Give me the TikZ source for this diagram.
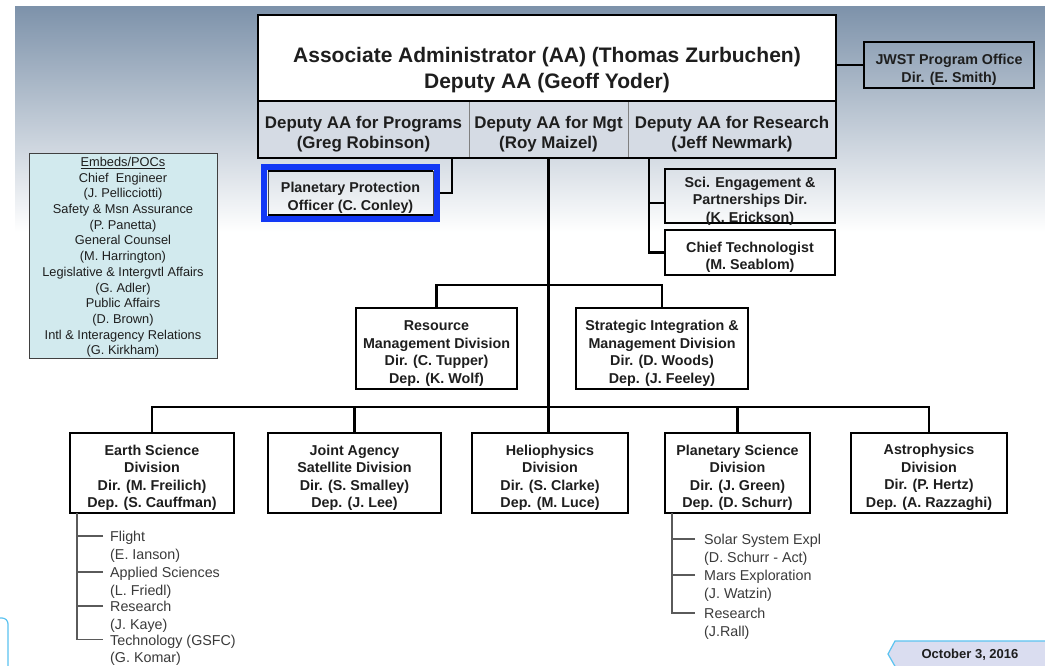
\documentclass[tikz,border=0pt]{standalone}
\usepackage{fontspec}
\setmainfont{Liberation Sans}
\usetikzlibrary{fit}
\definecolor{bgtop}{HTML}{7D92AA}
\definecolor{bgmid}{HTML}{B4C0CE}
\definecolor{depfill}{HTML}{D5DBE4}
\definecolor{ppblue}{HTML}{1238F5}
\definecolor{embfill}{HTML}{D2EAEE}
\definecolor{txt}{HTML}{1E1E1E}
\definecolor{listtxt}{HTML}{3A3A3A}
\definecolor{listgray}{HTML}{5A5A5A}
\definecolor{tagblue}{HTML}{5CC3F0}
\definecolor{tagmid}{HTML}{7D89CC}
\definecolor{tagside}{HTML}{DADDF0}
\newcommand\orgstrut{\rule{0pt}{19.5pt}}
\begin{document}
\begin{tikzpicture}[x=1pt,y=-1pt,
  boxbase/.style={anchor=north west, inner sep=0pt, outer sep=0pt, align=center, text=txt,
    font=\bfseries\fontsize{14.3}{17.5}\selectfont},
  orgbox/.style={boxbase, draw=black, line width=2.4pt},
  depcell/.style={boxbase, fill=depfill, draw=gray, line width=0.8pt,
    font=\bfseries\fontsize{16.9}{20}\selectfont, minimum height=57pt},
  divbox/.style={orgbox, fill=white, minimum height=80pt},
  conn/.style={draw=black, line width=2.4pt},
  listline/.style={draw=listgray, line width=1.1pt},
  listitem/.style={anchor=north west, inner sep=0pt, inner xsep=7pt, align=left,
    text=listtxt, font=\fontsize{14.3}{17.5}\selectfont},
]
\useasboundingbox (0,0) rectangle (1045,665);
\clip (0,0) rectangle (1045,665);
% background
\fill[white] (0,0) rectangle (1045,665);
\shade[top color=bgtop, middle color=bgmid, bottom color=white] (15,6) rectangle (1045,232);
\draw[draw=tagblue, line width=1.2pt, fill=white, rounded corners=6pt] (-20,618) -- (8,618) -- (8,690);

% top block
\node[boxbase, fill=white, font=\bfseries\fontsize{21}{26}\selectfont,
  minimum width=578pt, minimum height=86pt] (aa) at (258,15)
  {\rule{0pt}{40pt}Associate Administrator (AA) (Thomas Zurbuchen)\\Deputy AA (Geoff Yoder)};
\node[depcell, minimum width=211pt] (dp1) at (258,101) {\rule{0pt}{21pt}Deputy AA for Programs\\(Greg Robinson)};
\node[depcell, minimum width=159pt] (dp2) at (469,101) {\rule{0pt}{21pt}Deputy AA for Mgt\\(Roy Maizel)};
\node[depcell, minimum width=208pt] (dp3) at (628,101) {\rule{0pt}{21pt}Deputy AA for Research\\(Jeff Newmark)};
\draw[line width=2.6pt] (aa.north west) rectangle (dp3.south east);
\draw[line width=2.6pt] (aa.south west) -- (aa.south east);

% JWST
\node[orgbox, minimum width=170pt, minimum height=46pt] (jwst) at (864,42)
  {\orgstrut JWST Program Office\\Dir. (E. Smith)};
\draw[conn] (jwst.west) -- (jwst.west -| aa.east);

% Planetary protection
\node[boxbase, draw=gray!60!black, line width=0.8pt, minimum width=165pt, minimum height=44pt]
  (pp) at (268,171) {\orgstrut Planetary Protection\\Officer (C. Conley)};
\draw[line width=2.6pt] (pp.north west) -- (pp.north east);
\draw[line width=2.6pt] (pp.south west) -- (pp.south east);
\node[draw=ppblue, line width=6pt, fit=(pp), inner sep=4pt] (ppframe) {};
\coordinate (pptap) at (452,158);
\draw[conn] (pptap) |- (ppframe.east);

% right staff
\node[orgbox, minimum width=170pt, minimum height=54pt] (sci) at (665,169) {};
\node[boxbase, anchor=center] (scitxt) at (750,201)
  {Sci. Engagement \&\\Partnerships Dir.\\(K. Erickson)};
\node[orgbox, minimum width=170pt, minimum height=45pt] (chief) at (665,230)
  {\orgstrut Chief Technologist\\(M. Seablom)};
\coordinate (rtap) at (649,158);
\draw[conn] (rtap) |- (chief.west);
\coordinate (scitap) at ([yshift=-7pt]sci.west);
\draw[conn] (scitap) -- (scitap -| rtap);

% embeds
\node[anchor=north west, draw=black!75, line width=1pt, fill=embfill, inner sep=0pt, outer sep=0pt,
  align=center, text=txt, font=\fontsize{12.8}{15.7}\selectfont,
  minimum width=188pt, minimum height=205pt] (emb) at (29,153)
  {\rule{0pt}{13pt}\underline{Embeds/POCs}\\Chief\ \ Engineer\\(J. Pellicciotti)\\Safety \& Msn Assurance\\(P. Panetta)\\
   General Counsel\\(M. Harrington)\\Legislative \& Intergvtl Affairs\\(G. Adler)\\Public Affairs\\
   (D. Brown)\\Intl \& Interagency Relations\\(G. Kirkham)};

% middle divisions
\node[orgbox, fill=white, minimum width=161pt, minimum height=81pt] (rmd) at (356,308)
  {\orgstrut Resource\\Management Division\\Dir. (C. Tupper)\\Dep. (K. Wolf)};
\node[orgbox, fill=white, minimum width=172pt, minimum height=81pt] (sim) at (576,308)
  {\orgstrut Strategic Integration \&\\Management Division\\Dir. (D. Woods)\\Dep. (J. Feeley)};
\coordinate (midbus) at (548.5,285);
\draw[conn] (rmd.north) |- (midbus) -| (sim.north);

% science divisions
\node[divbox, minimum width=164pt] (earth) at (70,433)
  {\orgstrut Earth Science\\Division\\Dir. (M. Freilich)\\Dep. (S. Cauffman)};
\node[divbox, minimum width=173pt] (jas) at (268,433)
  {\orgstrut Joint Agency\\Satellite Division\\Dir. (S. Smalley)\\Dep. (J. Lee)};
\node[divbox, minimum width=156pt] (helio) at (472,433)
  {\orgstrut Heliophysics\\Division\\Dir. (S. Clarke)\\Dep. (M. Luce)};
\node[divbox, minimum width=145pt] (psd) at (665,433)
  {\orgstrut Planetary Science\\Division\\Dir. (J. Green)\\Dep. (D. Schurr)};
\node[divbox, minimum width=156pt] (astro) at (851,433)
  {\orgstrut Astrophysics\\Division\\Dir. (P. Hertz)\\Dep. (A. Razzaghi)};
\coordinate (bus) at (548.5,407);
\draw[conn] (dp2.south) -- (dp2.south |- helio.north);
\draw[conn] (earth.north) |- (bus) -| (astro.north);
\draw[conn] (jas.north) -- (jas.north |- bus);
\draw[conn] (psd.north) -- (psd.north |- bus);

% earth list
\node[listitem] (e1) at (103,529.25) {\strut Flight\\(E. Ianson)};
\node[listitem] (e2) at (103,565.25) {\strut Applied Sciences\\(L. Friedl)};
\node[listitem] (e3) at (103,599.25) {\strut Research\\(J. Kaye)};
\node[listitem] (e4) at (103,633) {\strut Technology (GSFC)\\(G. Komar)};
\coordinate (espine) at ([xshift=7pt]earth.south west);
\coordinate (e1b) at ([yshift=-6.75pt]e1.north west);
\coordinate (e2b) at ([yshift=-6.75pt]e2.north west);
\coordinate (e3b) at ([yshift=-6.75pt]e3.north west);
\coordinate (e4b) at ([yshift=-6.75pt]e4.north west);
\draw[listline] (espine) |- (e4b);
\draw[listline] (e1b) -- (e1b -| espine);
\draw[listline] (e2b) -- (e2b -| espine);
\draw[listline] (e3b) -- (e3b -| espine);

% planetary list
\node[listitem, inner xsep=9pt] (p1) at (695,532.25) {\strut Solar System Expl\\(D. Schurr - Act)};
\node[listitem, inner xsep=9pt] (p2) at (695,568.25) {\strut Mars Exploration\\(J. Watzin)};
\node[listitem, inner xsep=9pt] (p3) at (695,606.25) {\strut Research\\(J.Rall)};
\coordinate (pspine) at ([xshift=7pt]psd.south west);
\coordinate (p1b) at ([yshift=-6.75pt]p1.north west);
\coordinate (p2b) at ([yshift=-6.75pt]p2.north west);
\coordinate (p3b) at ([yshift=-6.75pt]p3.north west);
\draw[listline] (pspine) |- (p3b);
\draw[listline] (p1b) -- (p1b -| pspine);
\draw[listline] (p2b) -- (p2b -| pspine);

% date tag
\shadedraw[left color=tagside, middle color=tagmid, right color=tagside, draw=tagblue, line width=1.2pt]
  (895,641) -- (1052,641) -- (1052,675) -- (900,675) -- (888,654) -- cycle;
\node[font=\bfseries\fontsize{13}{15}\selectfont, text=txt] (date) at (970,655) {October 3, 2016};
\end{tikzpicture}
\end{document}
